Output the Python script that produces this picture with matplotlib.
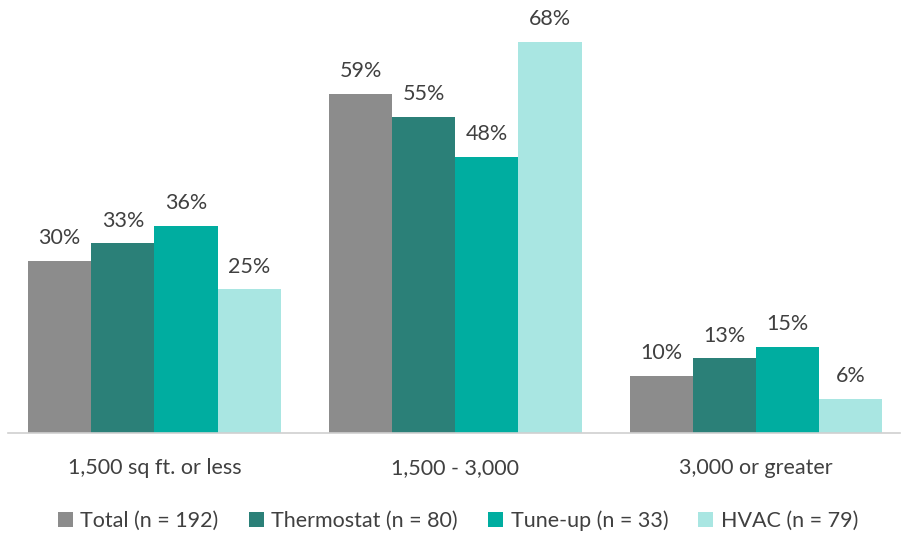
import matplotlib
matplotlib.use("Agg")
import matplotlib.pyplot as plt
import numpy as np

categories = ["1,500 sq ft. or less", "1,500 - 3,000", "3,000 or greater"]
series_names = ["Total (n = 192)", "Thermostat (n = 80)", "Tune-up (n = 33)", "HVAC (n = 79)"]
total = [30, 59, 10]
thermostat = [33, 55, 13]
tune_up = [36, 48, 15]
hvac = [25, 68, 6]

colors = ["#8c8c8c", "#2b8078", "#00ada0", "#a9e6e2"]
plt.rcParams['font.family'] = ['Lato', 'DejaVu Sans']

fig = plt.figure(figsize=(9.07, 5.34), dpi=100)
ax = fig.add_axes([8/907, 101/534, 892/907, 414/534])

x = np.arange(len(categories))
bw = 0.21
series = [total, thermostat, tune_up, hvac]
for i, (vals, name, c) in enumerate(zip(series, series_names, colors)):
    pos = x + (i - 1.5) * bw
    ax.bar(pos, vals, width=bw, color=c, label=name, zorder=2)
    for xp, v in zip(pos, vals):
        ax.text(xp, v + 2.2, f"{v}%", ha="center", va="bottom",
                fontsize=15.5, color="#404040")

ax.set_xlim(-0.487, 2.479)
ax.set_ylim(0, 72)
ax.set_yticks([])
for s in ["top", "right", "left"]:
    ax.spines[s].set_visible(False)
ax.spines["bottom"].set_color("#d0d0d0")
ax.spines["bottom"].set_linewidth(1.2)
ax.set_xticks(x)
ax.set_xticklabels(categories, fontsize=15.5, color="#404040")
ax.tick_params(axis="x", length=0, pad=18)

fig.legend(loc="lower center", bbox_to_anchor=(0.505, -0.03), ncol=4, frameon=False,
           fontsize=15.5, handlelength=0.7, handleheight=0.7, handletextpad=0.35,
           columnspacing=1.4, labelcolor="#404040")

fig.savefig("out.png", dpi=100)
